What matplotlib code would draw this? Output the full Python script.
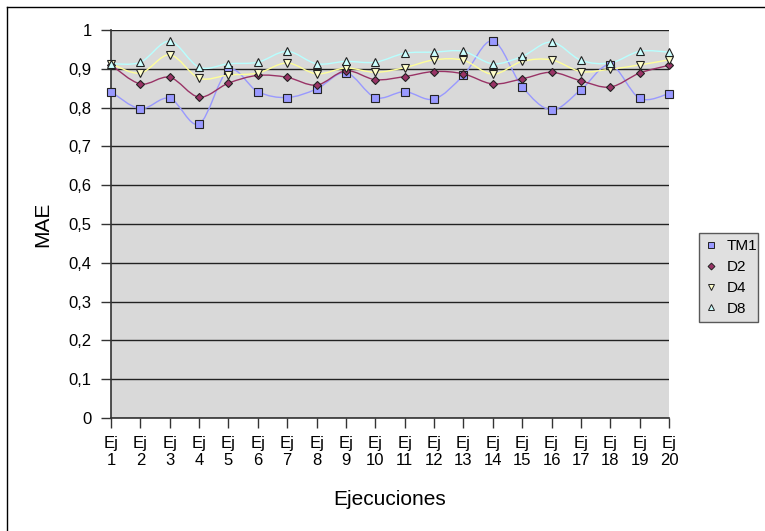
import numpy as np
import matplotlib
matplotlib.use("Agg")
import matplotlib.pyplot as plt
from matplotlib.path import Path
from matplotlib.patches import PathPatch
from matplotlib.lines import Line2D

plt.rcParams['font.family'] = ['Liberation Sans', 'DejaVu Sans']

# data
ejecuciones = list(range(1, 21))
tm1 = [0.841, 0.797, 0.824, 0.758, 0.897, 0.841, 0.826, 0.848, 0.890, 0.826,
       0.841, 0.822, 0.883, 0.972, 0.854, 0.794, 0.846, 0.910, 0.824, 0.836]
d2 = [0.910, 0.861, 0.878, 0.827, 0.863, 0.883, 0.878, 0.858, 0.895, 0.872,
      0.880, 0.893, 0.887, 0.861, 0.874, 0.891, 0.869, 0.853, 0.889, 0.909]
d4 = [0.913, 0.889, 0.936, 0.876, 0.884, 0.889, 0.915, 0.887, 0.902, 0.891,
      0.903, 0.923, 0.922, 0.886, 0.919, 0.923, 0.893, 0.899, 0.910, 0.923]
d8 = [0.913, 0.917, 0.971, 0.904, 0.913, 0.917, 0.945, 0.913, 0.919, 0.917,
      0.940, 0.943, 0.945, 0.913, 0.932, 0.969, 0.922, 0.915, 0.945, 0.943]

series = [
    # name, values, line colour, marker face, marker, size
    ("TM1", tm1, "#9999FF", "#9999FF", "s", 5.5),
    ("D2", d2, "#993366", "#993366", "D", 4.5),
    ("D4", d4, "#FFFF99", "#FFFFCC", "v", 6),
    ("D8", d8, "#B8FFFF", "#CCFFFF", "^", 6),
]


def smooth_path(x, y):
    # Excel-like smoothed line: cubic bezier with catmull-rom control points
    x = np.asarray(x, float)
    y = np.asarray(y, float)
    pts = np.column_stack([x, y])
    verts = [pts[0]]
    codes = [Path.MOVETO]
    n = len(pts)
    for i in range(n - 1):
        p0 = pts[i - 1] if i > 0 else pts[i]
        p1 = pts[i]
        p2 = pts[i + 1]
        p3 = pts[i + 2] if i + 2 < n else pts[i + 1]
        c1 = p1 + (p2 - p0) / 6.0
        c2 = p2 - (p3 - p1) / 6.0
        verts += [c1, c2, p2]
        codes += [Path.CURVE4] * 3
    return Path(verts, codes)


fig = plt.figure(figsize=(7.65, 5.31), dpi=100)
W, H = 765, 531
ax = fig.add_axes([111 / W, 1 - 418 / H, 558 / W, 388 / H])
ax.set_facecolor("#D9D9D9")

ax.set_xlim(1, 20)
ax.set_ylim(0, 1)
yt = np.round(np.arange(0, 1.01, 0.1), 1)
ax.set_yticks(yt)
ax.set_yticklabels(["0" if v == 0 else ("1" if v == 1 else ("%.1f" % v).replace(".", ",")) for v in yt])
ax.set_xticks(ejecuciones)
ax.set_xticklabels(["Ej\n%d" % e for e in ejecuciones])
ax.tick_params(axis="both", direction="out", length=7, width=1, color="#333333",
               labelsize=12, labelcolor="black")
ax.tick_params(axis="x", pad=6)
ax.tick_params(axis="y", pad=7)

ax.grid(axis="y", color="#222222", linewidth=1)
ax.set_axisbelow(True)
for s in ["top", "right"]:
    ax.spines[s].set_visible(False)
for s in ["left", "bottom"]:
    ax.spines[s].set_color("#333333")
    ax.spines[s].set_linewidth(1.2)

handles = []
for name, vals, lc, fc, mk, ms in series:
    patch = PathPatch(smooth_path(ejecuciones, vals), fill=False, edgecolor=lc,
                      linewidth=1.0, zorder=3)
    ax.add_patch(patch)
for name, vals, lc, fc, mk, ms in series:
    ax.plot(ejecuciones, vals, linestyle="none", marker=mk, markersize=ms,
            markerfacecolor=fc, markeredgecolor="#222222", markeredgewidth=0.8,
            zorder=4, clip_on=False)
    handles.append(Line2D([], [], linestyle="none", marker=mk, markersize=ms - 1,
                          markerfacecolor=fc, markeredgecolor="#222222",
                          markeredgewidth=0.7, label=name))

ax.set_xlabel("Ejecuciones", fontsize=15)
ax.xaxis.set_label_coords(0.5, -0.185)
ax.set_ylabel("MAE", fontsize=15)
ax.yaxis.set_label_coords(-0.105, 0.5)

leg = fig.legend(handles=handles, loc="upper left",
                 bbox_to_anchor=(699 / W, 1 - 320 / H, 59 / W, 87 / H),
                 mode="expand", fontsize=11, frameon=True, fancybox=False,
                 handlelength=0.8, handletextpad=0.6, borderpad=0.4,
                 labelspacing=0.45, borderaxespad=0)
leg.get_frame().set_facecolor("#D9D9D9")
leg.get_frame().set_edgecolor("#333333")
leg.get_frame().set_linewidth(1)

# chart area border (left and top visible in the reference)
fig.add_artist(Line2D([7 / W, 7 / W], [0, 1 - 7 / H], transform=fig.transFigure,
                      color="black", linewidth=1))
fig.add_artist(Line2D([7 / W, 1], [1 - 7 / H, 1 - 7 / H], transform=fig.transFigure,
                      color="black", linewidth=1))

fig.savefig("out.png", dpi=100)
